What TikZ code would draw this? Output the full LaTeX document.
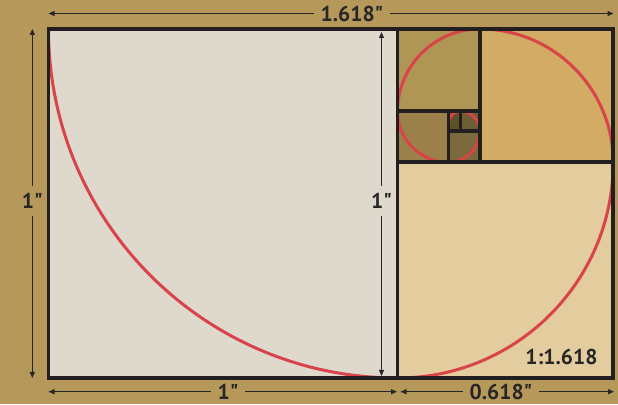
\documentclass[tikz,border=0pt]{standalone}
\usepackage{fontspec}
\setmainfont{PT Sans}[Ligatures=TeXOff]
\usetikzlibrary{arrows.meta}
\definecolor{bg}{HTML}{B5985A}
\definecolor{sqA}{HTML}{DFD9CD}
\definecolor{sqB}{HTML}{E3CC9E}
\definecolor{sqC}{HTML}{D2AB65}
\definecolor{sqD}{HTML}{B09654}
\definecolor{sqE}{HTML}{9B8149}
\definecolor{sqF}{HTML}{7C6A3E}
\definecolor{sqG}{HTML}{6E5E33}
\definecolor{sqH}{HTML}{5E5025}
\definecolor{edge}{HTML}{231F20}
\definecolor{spiral}{HTML}{D9434A}
\definecolor{ink}{HTML}{262626}
\begin{document}
\begin{tikzpicture}[x=1pt,y=1pt,
  box/.style={draw=edge,line width=3.8pt,line join=miter},
  dim/.style={draw=ink,line width=1.1pt,{Triangle[length=6pt,width=5pt]}-{Triangle[length=6pt,width=5pt]}},
  lbl/.style={font=\fontsize{21.5}{24}\selectfont\bfseries,text=ink,inner sep=0pt},
  hlbl/.style={lbl,inner xsep=7pt,inner ysep=1pt},
  vlbl/.style={lbl,inner xsep=1pt,inner ysep=7pt}]
\fill[bg] (0,0) rectangle (618,404);
\useasboundingbox (0,0) rectangle (618,404);
% squares
\fill[sqA] (48.5,26) rectangle (397.5,375);
\fill[sqB] (397.5,26) rectangle (613.2,241.7);
\fill[sqC] (479.9,241.7) rectangle (613.2,375);
\fill[sqD] (397.5,292.62) rectangle (479.9,375);
\fill[sqE] (397.5,241.7) rectangle (448.42,292.62);
\fill[sqF] (448.42,241.7) rectangle (479.9,273.17);
\fill[sqG] (460.45,273.17) rectangle (479.9,292.62);
\fill[sqH] (448.42,273.17) rectangle (460.45,292.62);
% spiral
\draw[spiral,line width=3pt] (48.5,375)
  arc[start angle=180,end angle=270,radius=349]
  arc[start angle=270,end angle=360,radius=215.7]
  arc[start angle=0,end angle=90,radius=133.3]
  arc[start angle=90,end angle=180,radius=82.38]
  arc[start angle=180,end angle=270,radius=50.92]
  arc[start angle=270,end angle=360,radius=31.47]
  arc[start angle=0,end angle=90,radius=19.45]
  arc[start angle=90,end angle=180,radius=12.02];
% dimension arrows
\coordinate (tl) at (48.5,390.5);
\coordinate (tr) at (613.5,390.5);
\draw[dim] (tl) -- (tr);
\node[hlbl,fill=bg] (ltop) at (352,390.5) {1.618"};
\coordinate (vlt) at (32.3,375);
\coordinate (vlb) at (32.3,26);
\draw[dim] (vlt) -- (vlb);
\node[vlbl,fill=bg] (lleft) at (32.3,203) {1"};
\coordinate (vmt) at (381.5,372);
\coordinate (vmb) at (381.5,28);
\draw[dim] (vmt) -- (vmb);
\node[vlbl,fill=sqA] (lmid) at (381.5,203) {1"};
\coordinate (b1l) at (48.5,12.3);
\coordinate (b1r) at (397,12.3);
\draw[dim] (b1l) -- (b1r);
\node[hlbl,fill=bg] (lb1) at (228,12.3) {1"};
\coordinate (b2l) at (400.5,12.3);
\coordinate (b2r) at (614,12.3);
\draw[dim] (b2l) -- (b2r);
\node[hlbl,fill=bg] (lb2) at (501,12.3) {0.618"};
% lines
\draw[box] (48.5,26) rectangle (613.2,375);
\draw[box] (397.5,26) -- (397.5,375);
\draw[box] (397.5,241.7) -- (613.2,241.7);
\draw[box] (479.9,241.7) -- (479.9,375);
\draw[box] (397.5,292.62) -- (479.9,292.62);
\draw[box] (448.42,241.7) -- (448.42,292.62);
\draw[box] (448.42,273.17) -- (479.9,273.17);
\draw[box] (460.45,273.17) -- (460.45,292.62);
\node[lbl,anchor=base] (ratio) at (561.5,39.7) {1:1.618};
\end{tikzpicture}
\end{document}
